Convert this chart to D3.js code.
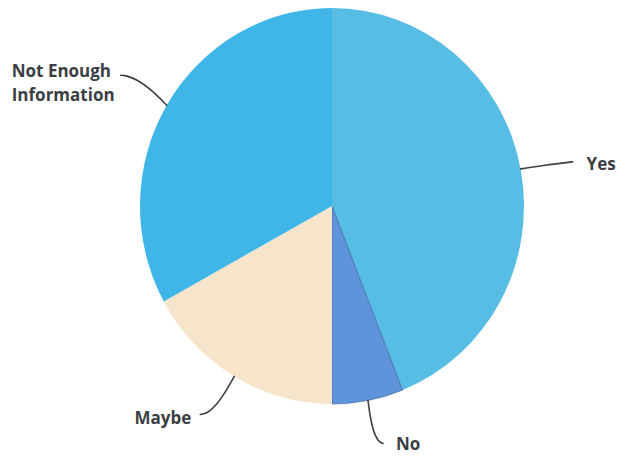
<!DOCTYPE html>
<html>
<head>
<meta charset="utf-8">
<script src="https://cdn.jsdelivr.net/npm/d3@7"></script>
<style>
  html, body { margin: 0; padding: 0; background: #ffffff; }
  svg { display: block; }
  .lbl { font-family: "Open Sans", "DejaVu Sans", sans-serif; font-weight: 700; font-size: 17px; fill: #3b3f44; }
</style>
</head>
<body>
<svg id="chart" width="620" height="457"></svg>
<script>
// Data (percent of responses), clockwise from 12 o'clock
const categories = ["Yes", "No", "Maybe", "Not Enough Information"];
const values = [44, 6, 17, 33];
const labelLines = [["Yes"], ["No"], ["Maybe"], ["Not Enough", "Information"]];
const colors = ["#58bde4", "#5f93dc", "#f6e4cb", "#40b5e7"];

const W = 620, H = 457;
const cx = 332, cy = 206;
const rx = 192, ry = 198;

const svg = d3.select("#chart");
const data = categories.map((c, i) => ({ cat: c, value: values[i], lines: labelLines[i], color: colors[i] }));

const pie = d3.pie().sort(null).value(d => d.value);
const arcs = pie(data);
const arc = d3.arc().innerRadius(0).outerRadius(rx);

const g = svg.append("g").attr("transform", `translate(${cx},${cy}) scale(1,${ry / rx})`);
g.selectAll("path.slice")
  .data(arcs)
  .enter().append("path")
  .attr("class", "slice")
  .attr("d", arc)
  .attr("fill", d => d.data.color)
  .attr("stroke", d => d.data.cat === "No" ? "#2f5a8a" : "none")
  .attr("stroke-width", 1)
  .attr("stroke-opacity", 0.6);

// edge point on the ellipse for each slice's middle angle
function edge(d) {
  const a = (d.startAngle + d.endAngle) / 2;
  return [cx + rx * Math.sin(a), cy - ry * Math.cos(a)];
}

// leader line shapes (relative offsets from the edge point) and label anchors
const leaders = {
  "Yes": { pts: [[0, 0], [26, -4], [52, -7]], text: [66, 1], anchor: "start" },
  "No": { pts: [[0, 0], [2, 15], [5, 30], [10, 41], [15, 43]], text: [28, 50], anchor: "start" },
  "Maybe": { pts: [[0, 0], [-9, 16], [-18, 29], [-27, 37], [-34, 38]], text: [-43, 48], anchor: "end" },
  "Not Enough Information": { pts: [[0, 0], [-16, -16], [-30, -26], [-42, -30], [-46, -30]], text: [-155, -28], anchor: "start" }
};

const line = d3.line().curve(d3.curveBasis);
arcs.forEach(d => {
  const [ex, ey] = edge(d);
  const L = leaders[d.data.cat];
  svg.append("path")
    .attr("d", line(L.pts.map(p => [ex + p[0], ey + p[1]])))
    .attr("fill", "none")
    .attr("stroke", "#3b3f44")
    .attr("stroke-width", 1.6)
    .attr("stroke-linecap", "round");
  const t = svg.append("text")
    .attr("class", "lbl")
    .attr("x", ex + L.text[0])
    .attr("y", ey + L.text[1])
    .attr("text-anchor", L.anchor);
  d.data.lines.forEach((s, i) => {
    t.append("tspan")
      .attr("x", ex + L.text[0])
      .attr("dy", i === 0 ? 0 : 24)
      .text(s);
  });
});
</script>
</body>
</html>
